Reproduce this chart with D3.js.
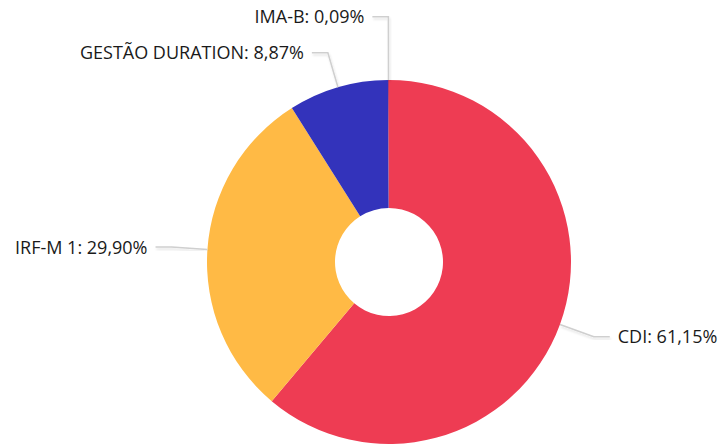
<!DOCTYPE html>
<html>
<head>
<meta charset="utf-8">
<script src="https://cdn.jsdelivr.net/npm/d3@7"></script>
<style>
  html, body { margin: 0; padding: 0; background: #fff; }
  svg { display: block; }
</style>
</head>
<body>
<svg id="chart" width="722" height="445"></svg>
<script>
const categories = ["CDI", "IRF-M 1", "GESTÃO DURATION", "IMA-B"];
const values = [61.15, 29.90, 8.87, 0.09];
const labels = ["CDI: 61,15%", "IRF-M 1: 29,90%", "GESTÃO DURATION: 8,87%", "IMA-B: 0,09%"];
const colors = ["#EE3C53", "#FFBA45", "#3333BB", "#B03A6E"];

const W = 722, H = 445;
const cx = 389, cy = 262;
const rOuter = 182, rInner = 54, rLabel = 218, hLen = 16, gap = 8;

const svg = d3.select("#chart");
const defs = svg.append("defs");
const f = defs.append("filter").attr("id", "sh").attr("x", "-20%").attr("y", "-20%").attr("width", "140%").attr("height", "140%");
f.append("feDropShadow").attr("dx", 1).attr("dy", 2).attr("stdDeviation", 1).attr("flood-color", "#000").attr("flood-opacity", 0.12);

const g = svg.append("g").attr("transform", `translate(${cx},${cy})`);

const data = categories.map((c, i) => ({ name: c, value: values[i], label: labels[i], color: colors[i] }));
const pie = d3.pie().sort(null).value(d => d.value);
const arcs = pie(data);
const arc = d3.arc().innerRadius(rInner).outerRadius(rOuter);

g.selectAll("path.slice").data(arcs).join("path")
  .attr("class", "slice")
  .attr("d", arc)
  .attr("fill", d => d.data.color);

// label layout
const items = arcs.map(a => {
  const m = (a.startAngle + a.endAngle) / 2;
  const s = Math.sin(m), c = -Math.cos(m);
  const right = s >= 0.0001;
  return {
    a, right,
    p0: [rOuter * s, rOuter * c],
    p1: [rLabel * s, rLabel * c]
  };
});
// avoid overlap on each side
const minGap = 36;
["left", "right"].forEach(side => {
  const list = items.filter(it => (side === "right") === it.right).sort((a, b) => b.p1[1] - a.p1[1]);
  for (let i = 1; i < list.length; i++) {
    const prev = list[i - 1];
    if (prev.p1[1] - list[i].p1[1] < minGap) {
      list[i].p1 = [list[i].p1[0], prev.p1[1] - minGap];
    }
  }
});
items.forEach(it => {
  const dir = it.right ? 1 : -1;
  it.p2 = [it.p1[0] + dir * hLen, it.p1[1]];
  it.tx = it.p2[0] + dir * gap;
});

g.selectAll("polyline.lead").data(items).join("polyline")
  .attr("class", "lead")
  .attr("points", d => [d.p0, d.p1, d.p2].map(p => p.join(",")).join(" "))
  .attr("fill", "none")
  .attr("stroke", "#cfcfcf")
  .attr("stroke-width", 1.5)
  .attr("filter", "url(#sh)");

g.selectAll("text.lbl").data(items).join("text")
  .attr("class", "lbl")
  .attr("x", d => d.tx)
  .attr("y", d => d.p2[1])
  .attr("dy", "0.36em")
  .attr("text-anchor", d => d.right ? "start" : "end")
  .attr("font-family", "'Open Sans', 'Noto Sans', sans-serif")
  .attr("font-size", 18)
  .attr("fill", "#1a1a1a")
  .text(d => d.a.data.label);
</script>
</body>
</html>
